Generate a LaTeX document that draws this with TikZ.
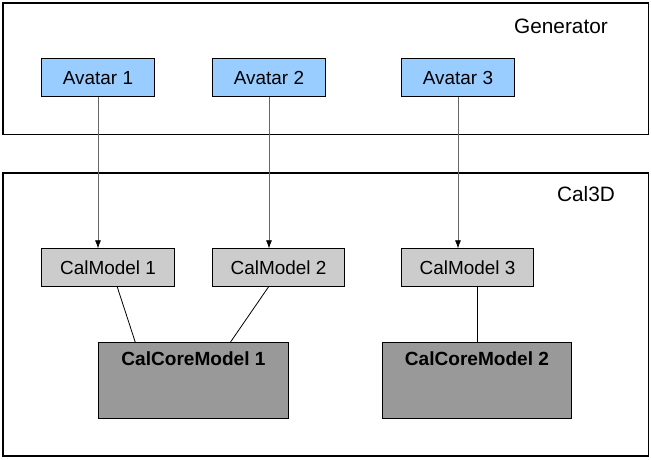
\documentclass[tikz,border=0pt]{standalone}
\usepackage{fontspec}
\setmainfont{Liberation Sans}
\usetikzlibrary{arrows.meta,calc}
\definecolor{avblue}{HTML}{99CCFF}
\definecolor{calgray}{HTML}{CCCCCC}
\definecolor{coregray}{HTML}{999999}
\begin{document}
\begin{tikzpicture}[x=0.75pt,y=-0.75pt,
  frame/.style={draw=black,line width=0.9pt,fill=white},
  boxbase/.style={draw=black,line width=0.75pt,inner sep=0pt,font=\fontsize{14.2}{17}\selectfont},
  avatarbox/.style={boxbase,fill=avblue,minimum width=85pt,minimum height=28.5pt},
  modelbox/.style={boxbase,fill=calgray,minimum width=99.5pt,minimum height=28pt},
  corebox/.style={boxbase,fill=coregray,minimum width=142pt,minimum height=56.5pt},
  coretext/.style={font=\fontsize{14.3}{17}\selectfont\bfseries,inner sep=0pt},
  frametext/.style={font=\fontsize{15.6}{18}\selectfont,inner sep=0pt},
  feed/.style={draw=black!60,line width=0.5pt,-{Latex[length=6pt,width=4.5pt,color=black]}},
  link/.style={draw=black,line width=0.6pt}]
\useasboundingbox (0,0) rectangle (651,460);
\fill[white] (0,0) rectangle (651,460);
% frames
\draw[frame] (3,3) rectangle (648.5,134.5);
\draw[frame] (3,173) rectangle (648.5,456);
\node[frametext] (gen) at (561,26) {Generator};
\node[frametext] (cal) at (586,194) {Cal3D};
% avatars
\node[avatarbox] (a1) at (98,78) {Avatar 1};
\node[avatarbox] (a2) at (269,78) {Avatar 2};
\node[avatarbox] (a3) at (458,78) {Avatar 3};
% models
\node[modelbox] (c1) at (108,267.5) {CalModel 1};
\node[modelbox] (c2) at (278.5,267.5) {CalModel 2};
\node[modelbox] (c3) at (467.5,267.5) {CalModel 3};
% core models
\node[corebox] (k1) at (193.5,380.5) {};
\node[corebox] (k2) at (477,380.5) {};
\node[coretext] (k1t) at (193.5,359) {CalCoreModel 1};
\node[coretext] (k2t) at (477,359) {CalCoreModel 2};
% arrows
\draw[feed] (a1.south) -- (a1.south |- c1.north);
\draw[feed] (a2.south) -- (a2.south |- c2.north);
\draw[feed] (a3.south) -- (a3.south |- c3.north);
% links
\coordinate (c1b) at ($(c1.south west)+(76,0)$);
\coordinate (k1a) at ($(k1.north west)+(37,0)$);
\coordinate (c2b) at ($(c2.south west)+(57,0)$);
\coordinate (k1b) at ($(k1.north west)+(132,0)$);
\coordinate (c3b) at ($(c3.south west)+(77,0)$);
\draw[link] (c1b) -- (k1a);
\draw[link] (c2b) -- (k1b);
\draw[link] (c3b) -- (c3b |- k2.north);
\end{tikzpicture}
\end{document}
